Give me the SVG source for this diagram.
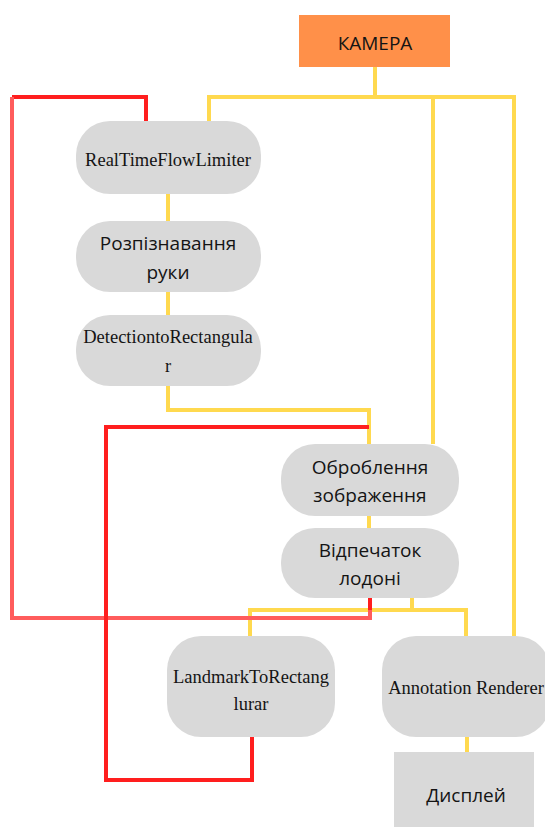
<svg xmlns="http://www.w3.org/2000/svg" width="545" height="827" viewBox="0 0 545 827">
  <style>
    .node { fill: #D9D9D9; }
    .cam { fill: #FF9049; }
    .sans { font-family: "Open Sans", "Noto Sans", "DejaVu Sans", sans-serif; font-size: 19px; fill: #141414; text-anchor: middle; }
    .serif { font-family: "Liberation Serif", "Times New Roman", serif; font-size: 18.5px; fill: #141414; text-anchor: middle; }
    .y { fill: none; stroke: #FFD94F; stroke-width: 4; stroke-linejoin: miter; }
    .r { fill: none; stroke: #FF1E1E; stroke-width: 4; stroke-linejoin: miter; }
    .rl { fill: none; stroke: #FF5C5C; stroke-width: 4; stroke-linejoin: miter; }
  </style>

  <rect width="545" height="827" fill="#FFFFFF"/>

  <!-- connectors -->
  <g id="connectors">
    <!-- camera fan-out -->
    <path class="y" d="M375,67 V97"/>
    <path class="y" d="M209,121 V97 H514 V636"/>
    <path class="y" d="M433,97 V444"/>
    <!-- left column chain -->
    <path class="y" d="M168,194 V221"/>
    <path class="y" d="M168,292 V315"/>
    <path class="y" d="M168,386 V410 H369 V444"/>
    <!-- centre chain -->
    <path class="y" d="M369,516 V528"/>
    <path class="y" d="M412,598 V610"/>
    <path class="y" d="M250,636 V610 H466 V636"/>
    <path class="y" d="M467,737 V752"/>
    <!-- feedback loops -->
    <path class="r" d="M146,121 V97 H12"/>
    <path class="rl" d="M12,97 V618 H370 V610"/>
    <path class="r" d="M370,610 V598"/>
    <path class="r" d="M369,427 H106 V780 H252 V737"/>
  </g>

  <g id="camera">
    <rect class="cam" x="299" y="15" width="151" height="52"/>
    <text class="sans" x="375" y="50">КАМЕРА</text>
  </g>

  <g id="rtfl">
    <rect class="node" x="76" y="121" width="185" height="73" rx="34"/>
    <text class="serif" x="168" y="166">RealTimeFlowLimiter</text>
  </g>

  <g id="hand-detect">
    <rect class="node" x="76" y="221" width="185" height="71" rx="34"/>
    <text class="sans" x="168" y="250">Розпізнавання</text>
    <text class="sans" x="168" y="279">руки</text>
  </g>

  <g id="det-to-rect">
    <rect class="node" x="76" y="315" width="185" height="71" rx="34"/>
    <text class="serif" x="168" y="343">DetectiontoRectangula</text>
    <text class="serif" x="168" y="372">r</text>
  </g>

  <g id="image-proc">
    <rect class="node" x="281" y="444" width="178" height="72" rx="34"/>
    <text class="sans" x="370" y="474">Оброблення</text>
    <text class="sans" x="370" y="502">зображення</text>
  </g>

  <g id="palm-print">
    <rect class="node" x="281" y="528" width="178" height="70" rx="34"/>
    <text class="sans" x="370" y="557">Відпечаток</text>
    <text class="sans" x="370" y="585">лодоні</text>
  </g>

  <g id="lm-to-rect">
    <rect class="node" x="167" y="636" width="168" height="101" rx="34"/>
    <text class="serif" x="251" y="683">LandmarkToRectang</text>
    <text class="serif" x="251" y="710">lurar</text>
  </g>

  <g id="annotation">
    <rect class="node" x="382" y="636" width="168" height="101" rx="34"/>
    <text class="serif" x="466" y="694">Annotation Renderer</text>
  </g>

  <g id="display">
    <rect class="node" x="394" y="752" width="140" height="80"/>
    <text class="sans" x="466" y="802">Дисплей</text>
  </g>
</svg>
